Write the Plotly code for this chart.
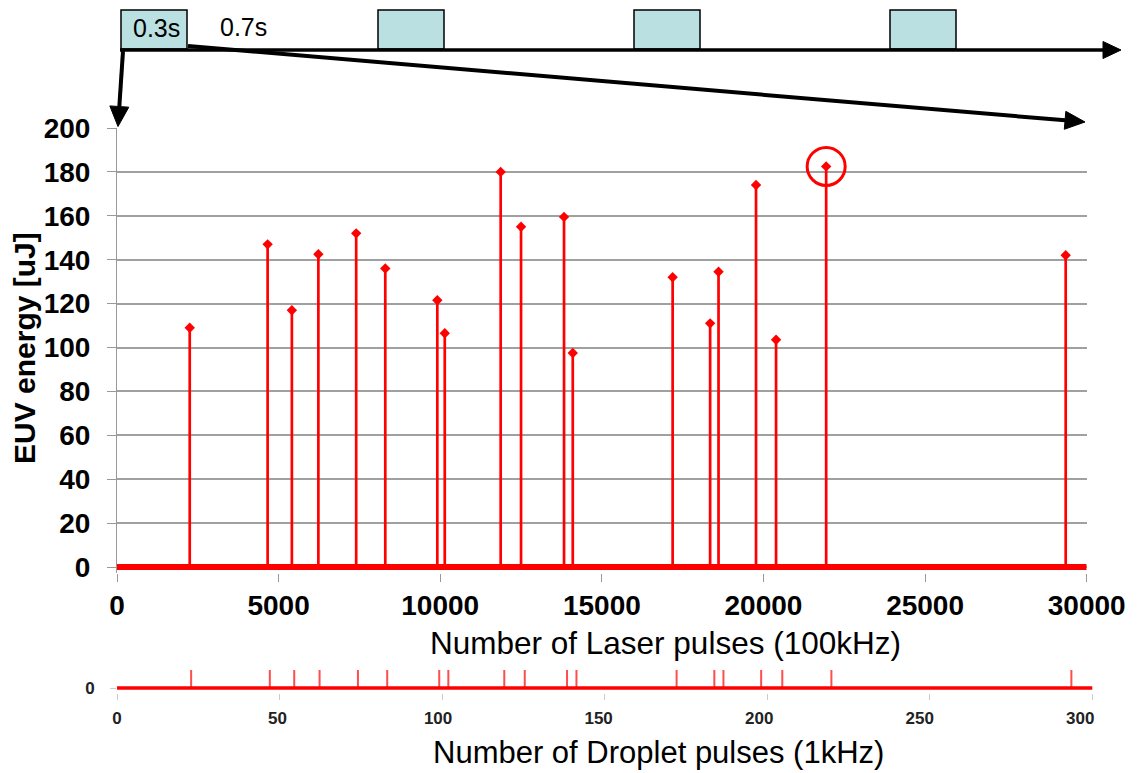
import math
import plotly.graph_objects as go

# ---------------- data ----------------
laser_pulse = [2250, 4660, 5410, 6230, 7400, 8300, 9910, 10140, 11870, 12500,
               13830, 14100, 17190, 18350, 18610, 19770, 20390, 21940, 29350]
euv_energy = [109, 147, 117, 142.5, 152, 136, 121.5, 106.5, 180, 155,
              159.5, 97.5, 132, 111, 134.5, 174, 103.5, 182.5, 142]
droplet_pulse = [22.8, 47.0, 54.5, 62.3, 74.1, 83.1, 99.1, 101.9, 119.1, 125.4,
                 138.4, 141.3, 172.1, 183.7, 186.5, 198.1, 204.6, 219.7, 293.5]
laser_range = [0, 30000]
droplet_range = [0, 300]
laser_ticks = [0, 5000, 10000, 15000, 20000, 25000, 30000]
energy_ticks = [0, 20, 40, 60, 80, 100, 120, 140, 160, 180, 200]
droplet_ticks = [0, 50, 100, 150, 200, 250, 300]
highlight_index = 17
timeline_labels = ["0.3s", "0.7s"]

# ---------------- geometry helpers ----------------
W, H = 1140, 773
ML, MR, MT, MB = 117, 45, 128, 80
PW = W - ML - MR
PH = H - MT - MB


def px(x):
    return (x - ML) / PW


def py(y):
    return (H - MB - y) / PH


FONT = "Liberation Sans, Arial, sans-serif"
RED = "#ff0000"

fig = go.Figure()

# main baseline (all non-hit laser pulses at zero)
fig.add_trace(go.Scatter(x=laser_range, y=[0, 0], mode="lines",
                         line=dict(color=RED, width=6), xaxis="x", yaxis="y",
                         hoverinfo="skip"))
# stems
sx, sy = [], []
for xv, yv in zip(laser_pulse, euv_energy):
    sx += [xv, xv, None]
    sy += [0, yv, None]
fig.add_trace(go.Scatter(x=sx, y=sy, mode="lines",
                         line=dict(color=RED, width=2.7), xaxis="x", yaxis="y"))
fig.add_trace(go.Scatter(x=laser_pulse, y=euv_energy, mode="markers",
                         marker=dict(color=RED, size=8, symbol="diamond"),
                         xaxis="x", yaxis="y"))

# droplet strip
fig.add_trace(go.Scatter(x=droplet_range, y=[0, 0], mode="lines",
                         line=dict(color=RED, width=3.5), xaxis="x2", yaxis="y2",
                         hoverinfo="skip"))
dx, dy = [], []
for xv, yv in zip(droplet_pulse, euv_energy):
    dx += [xv, xv, None]
    dy += [0, yv, None]
fig.add_trace(go.Scatter(x=dx, y=dy, mode="lines",
                         line=dict(color="rgba(255,0,0,0.7)", width=2),
                         xaxis="x2", yaxis="y2"))
# invisible trace to carry the label axis
fig.add_trace(go.Scatter(x=droplet_range, y=[0, 0], mode="lines", opacity=0,
                         line=dict(width=1), xaxis="x3", yaxis="y2",
                         hoverinfo="skip"))

shapes = []
# highlight circle around the max pulse
cx = laser_pulse[highlight_index]
cy = euv_energy[highlight_index]
rx = 19 * (laser_range[1] - laser_range[0]) / 969.7
ry = 19 * 202.5 / 444.5
shapes.append(dict(type="circle", xref="x", yref="y",
                   x0=cx - rx, x1=cx + rx, y0=cy - ry, y1=cy + ry,
                   line=dict(color=RED, width=3)))

# timeline boxes
BOX_FILL = "#bae0e2"
for x0 in [121, 378, 634, 890]:
    shapes.append(dict(type="rect", xref="paper", yref="paper",
                       x0=px(x0), x1=px(x0 + 66), y0=py(49), y1=py(10),
                       fillcolor=BOX_FILL, line=dict(color="black", width=1.5)))


def arrow(x0, y0, x1, y1, width, head_len, head_half):
    ang = math.atan2(y1 - y0, x1 - x0)
    bx = x1 - head_len * math.cos(ang)
    by = y1 - head_len * math.sin(ang)
    nx, ny = -math.sin(ang), math.cos(ang)
    out = [dict(type="line", xref="paper", yref="paper",
                x0=px(x0), y0=py(y0), x1=px(bx), y1=py(by),
                line=dict(color="black", width=width))]
    p1 = (bx + nx * head_half, by + ny * head_half)
    p2 = (bx - nx * head_half, by - ny * head_half)
    path = (f"M {px(x1)} {py(y1)} L {px(p1[0])} {py(p1[1])} "
            f"L {px(p2[0])} {py(p2[1])} Z")
    out.append(dict(type="path", xref="paper", yref="paper", path=path,
                    fillcolor="black", line=dict(color="black", width=1)))
    return out


shapes += arrow(120, 50, 1121, 50, 3.5, 18, 8.5)
shapes += arrow(123, 51, 118, 126.5, 4, 20, 9.5)
shapes += arrow(188, 46, 1085, 122, 4, 20, 9)

annotations = [
    dict(text=timeline_labels[0], x=px(156), y=py(28), xref="paper", yref="paper",
         showarrow=False, font=dict(family=FONT, size=25, color="black"),
         xanchor="center", yanchor="middle"),
    dict(text=timeline_labels[1], x=px(243), y=py(27), xref="paper", yref="paper",
         showarrow=False, font=dict(family=FONT, size=25, color="black"),
         xanchor="center", yanchor="middle"),
    dict(text="Number of Laser pulses (100kHz)", x=px(665), y=py(643),
         xref="paper", yref="paper", showarrow=False,
         font=dict(family=FONT, size=31.5, color="black"),
         xanchor="center", yanchor="middle"),
    dict(text="Number of Droplet pulses (1kHz)", x=px(658), y=py(772),
         xref="paper", yref="paper", showarrow=False,
         font=dict(family=FONT, size=31, color="black"),
         xanchor="center", yanchor="bottom"),
    dict(text="EUV energy [uJ]", x=px(24), y=py(348), xref="paper", yref="paper",
         showarrow=False, textangle=-90,
         font=dict(family=FONT, size=30, color="black", weight="bold"),
         xanchor="center", yanchor="middle"),
]

GRID = "#a0a0a0"
fig.update_layout(
    width=W, height=H,
    margin=dict(l=ML, r=MR, t=MT, b=MB, autoexpand=False),
    paper_bgcolor="white", plot_bgcolor="white",
    showlegend=False,
    shapes=shapes, annotations=annotations,
    xaxis=dict(domain=[0, (1086.7 - ML) / PW], range=laser_range, anchor="y",
               automargin=False,
               tickvals=laser_ticks, ticktext=[str(v) for v in laser_ticks],
               ticks="outside", ticklen=8, tickcolor="#999",
               showgrid=False, zeroline=False, showline=False,
               tickfont=dict(family=FONT, size=28, color="black", weight="bold")),
    yaxis=dict(domain=[py(572.5), 1], range=[-2.5, 200], anchor="x",
               automargin=False,
               tickvals=energy_ticks, ticks="outside", ticklen=9, tickcolor="#999",
               ticklabelstandoff=11,
               showgrid=True, gridcolor=GRID, gridwidth=1.5, zeroline=False,
               showline=True, linecolor="#999", linewidth=1,
               tickfont=dict(family=FONT, size=28, color="black", weight="bold")),
    xaxis2=dict(domain=[0, (1092.5 - ML) / PW], range=droplet_range, anchor="y2",
                automargin=False,
                tickvals=droplet_ticks, ticks="outside", ticklen=6, tickcolor="#ccc",
                showgrid=False, zeroline=False, showline=False,
                showticklabels=False),
    xaxis3=dict(domain=[0, (1092.5 - ML) / PW], overlaying="x2", anchor="y2",
                automargin=False,
                range=[0, 303.8], tickvals=droplet_ticks, ticks="",
                showgrid=False, zeroline=False, showline=False,
                ticklabelstandoff=13,
                tickfont=dict(family=FONT, size=17, color="#222", weight="bold")),
    yaxis2=dict(domain=[0, py(670)], range=[-5, 18], anchor="x2",
                automargin=False,
                tickvals=[0], ticks="outside", ticklen=6, tickcolor="#ccc",
                ticklabelstandoff=12,
                showgrid=False, zeroline=False, showline=False,
                tickfont=dict(family=FONT, size=17, color="#222", weight="bold")),
)

fig.write_html("out.html", config={"displayModeBar": False})
